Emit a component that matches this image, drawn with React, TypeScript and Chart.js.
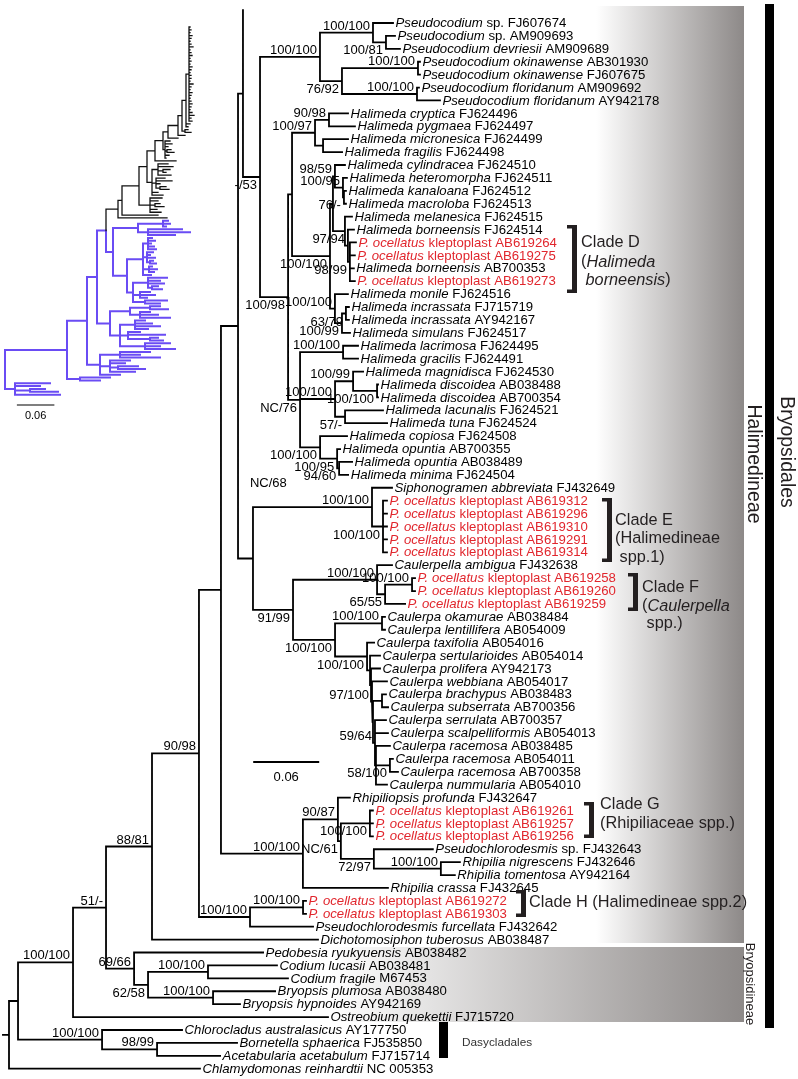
import { useEffect, useRef } from "react";
import { Chart, registerables } from "chart.js";

Chart.register(...registerables);

const FONT = '"Liberation Sans", Arial, Helvetica, sans-serif';

// ---------------- leaves (top to bottom) ----------------
const leafTaxa: string[] = [
  "Pseudocodium", "Pseudocodium", "Pseudocodium devriesii", "Pseudocodium okinawense", "Pseudocodium okinawense",
  "Pseudocodium floridanum", "Pseudocodium floridanum", "Halimeda cryptica", "Halimeda pygmaea", "Halimeda micronesica",
  "Halimeda fragilis", "Halimeda cylindracea", "Halimeda heteromorpha", "Halimeda kanaloana", "Halimeda macroloba",
  "Halimeda melanesica", "Halimeda borneensis", "P. ocellatus", "P. ocellatus", "Halimeda borneensis",
  "P. ocellatus", "Halimeda monile", "Halimeda incrassata", "Halimeda incrassata", "Halimeda simulans",
  "Halimeda lacrimosa", "Halimeda gracilis", "Halimeda magnidisca", "Halimeda discoidea", "Halimeda discoidea",
  "Halimeda lacunalis", "Halimeda tuna", "Halimeda copiosa", "Halimeda opuntia", "Halimeda opuntia",
  "Halimeda minima", "Siphonogramen abbreviata", "P. ocellatus", "P. ocellatus", "P. ocellatus",
  "P. ocellatus", "P. ocellatus", "Caulerpella ambigua", "P. ocellatus", "P. ocellatus",
  "P. ocellatus", "Caulerpa okamurae", "Caulerpa lentillifera", "Caulerpa taxifolia", "Caulerpa sertularioides",
  "Caulerpa prolifera", "Caulerpa webbiana", "Caulerpa brachypus", "Caulerpa subserrata", "Caulerpa serrulata",
  "Caulerpa scalpelliformis", "Caulerpa racemosa", "Caulerpa racemosa", "Caulerpa racemosa", "Caulerpa nummularia",
  "Rhipiliopsis profunda", "P. ocellatus", "P. ocellatus", "P. ocellatus", "Pseudochlorodesmis",
  "Rhipilia nigrescens", "Rhipilia tomentosa", "Rhipilia crassa", "P. ocellatus", "P. ocellatus",
  "Pseudochlorodesmis furcellata", "Dichotomosiphon tuberosus", "Pedobesia ryukyuensis", "Codium lucasii", "Codium fragile",
  "Bryopsis plumosa", "Bryopsis hypnoides", "Ostreobium quekettii", "Chlorocladus australasicus", "Bornetella sphaerica",
  "Acetabularia acetabulum", "Chlamydomonas reinhardtii",
];

const leafAccessions: string[] = [
  "sp. FJ607674", "sp. AM909693", "AM909689", "AB301930", "FJ607675",
  "AM909692", "AY942178", "FJ624496", "FJ624497", "FJ624499",
  "FJ624498", "FJ624510", "FJ624511", "FJ624512", "FJ624513",
  "FJ624515", "FJ624514", "kleptoplast AB619264", "kleptoplast AB619275", "AB700353",
  "kleptoplast AB619273", "FJ624516", "FJ715719", "AY942167", "FJ624517",
  "FJ624495", "FJ624491", "FJ624530", "AB038488", "AB700354",
  "FJ624521", "FJ624524", "FJ624508", "AB700355", "AB038489",
  "FJ624504", "FJ432649", "kleptoplast AB619312", "kleptoplast AB619296", "kleptoplast AB619310",
  "kleptoplast AB619291", "kleptoplast AB619314", "FJ432638", "kleptoplast AB619258", "kleptoplast AB619260",
  "kleptoplast AB619259", "AB038484", "AB054009", "AB054016", "AB054014",
  "AY942173", "AB054017", "AB038483", "AB700356", "AB700357",
  "AB054013", "AB038485", "AB054011", "AB700358", "AB054010",
  "FJ432647", "kleptoplast AB619261", "kleptoplast AB619257", "kleptoplast AB619256", "sp. FJ432643",
  "FJ432646", "AY942164", "FJ432645", "kleptoplast AB619272", "kleptoplast AB619303",
  "FJ432642", "AB038487", "AB038482", "AB038481", "M67453",
  "AB038480", "AY942169", "FJ715720", "AY177750", "FJ535850",
  "FJ715714", "NC 005353",
];

// ---------------- main tree (Newick; leaf = row index; branch lengths in subst./site;
// node labels = bootstrap support; "|b" printed under the branch, "|t" printed above the upper child) ----------------
const pseudocodiumClade =
  "((0:0.0182,(1:0.0082,2:0.0127)'100/81|b':0.0118)'100/100':0.0482," +
  "((3:0.0018,4:0.0018)'100/100':0.0691,(5:0.0018,6:0.0209)'100/100':0.0682)'76/92|b':0.0200)'100/100':0.0545";
const halimedaUpper =
  "(((7:0.0173,8:0.0236)'90/98':0.0127,(9:0.0227,10:0.0173):0.0073)'100/97':0.0209," +
  "(((11:0.0091,(12:0.0036,(13:0.0018,14:0.0018)'76/-|b':0.0009)'100/95':0.0073)'98/59':0.0018," +
  "(15:0.0064,(16:0.0055,(17:0.0055,18:0.0045,19:0.0036,20:0.0045)'98/99|b':0.0018)'97/94':0.0027):0.0109):0.0027," +
  "(21:0.0118,((22:0.0027,23:0.0027)'63/79|b':0.0036,24:0.0073)'100/99|b':0.0064)'100/100':0.0045)'100/100|b':0.0345):0.0036";
const halimedaLower =
  "((25:0.0136,26:0.0136)'100/100':0.0391," +
  "((27:0.0091,(28:0.0009,29:0.0009)'100/100|b':0.0218)'100/99':0.0164,(30:0.0345,31:0.0382)'57/-|b':0.0091)'100/100':0.0318," +
  "(32:0.0245,(33:0.0027,(34:0.0118,35:0.0082)'94/60|b':0.0018)'100/95|b':0.0155)'100/100|b':0.0182)'NC/76|b':0.0109";
const halimedaClade = `(${halimedaUpper},${halimedaLower})'100/98|b':0.0255`;
const upperGroup = `(-1:0,(${pseudocodiumClade},${halimedaClade})'-/53|b':0.0155):0.0045`;

const caulerpaCrown =
  "(48:0.0064,(49:0.0091,(50:0.0082,(51:0.0136,((52:0.0036,53:0.0055):0.0082," +
  "(54:0.0100,55:0.0118,(56:0.0127,(57:0.0027,58:0.0073)'58/100|b':0.0127,59:0.0100):0.0009)'59/64':0.0018):0.0009)'97/100':0.0009):0.0009):0.0027)'100/100|b':0.0291";
const caulerpaGroup =
  "((36:0.0182,(37:0.0036,38:0.0036,39:0.0036,40:0.0036,41:0.0036)'100/100|b':0.0100)'100/100':0.1082," +
  "((42:0.0136,((43:0.0027,44:0.0027)'100/100':0.0245,45:0.0182)'65/55|b':0.0073)'100/100':0.0764," +
  `((46:0.0027,47:0.0027)'100/100':0.0427,${caulerpaCrown})'100/100|b':0.0382)'91/99|b':0.0364)'NC/68|t':0.0136`;
const rhipiliaClade =
  "((60:0.0109,((61:0.0027,62:0.0027,63:0.0027)'100/100|b':0.0264,(64:0.0536,(65:0.0173,66:0.0127)'100/100':0.0609)'72/97|b':0.0300)'NC/61|b':0.0027)'90/87':0.0318,67:0.0773)'100/100':0.0745";
const cladeHGroup = "((68:0.0027,69:0.0027)'100/100':0.0482,70:0.0573)'100/100':0.0464";
const halimedineae = `((((${upperGroup},${caulerpaGroup}):0.0155,${rhipiliaClade}):0.0200,${cladeHGroup})'90/98':0.0427,71:0.1509)'88/81':0.0418`;
const bryopsidineae = "(72:0.1173,((73:0.0627,74:0.0727)'100/100':0.0545,(75:0.0564,76:0.0245)'100/100':0.0591)'62/58|b':0.0127)'69/66':0.0255";
const bryopsidales = `((${halimedineae},${bryopsidineae})'51/-':0.0300,77:0.2318)'100/100':0.0500`;
const dasycladales = "(78:0.0727,(79:0.0727,80:0.0573)'98/99':0.0500)'100/100':0.0764";
const mainNewick = `((${bryopsidales},${dasycladales}):0.0082,81:0.1736):0.0055;`;

// ---------------- overview tree (thumbnail); 'K' = subtree drawn black, the rest purple ----------------
const insetComb =
  "(_:0.0016,_:0.0032,_:0.0016,_:0.0048,_:0.0032,_:0.0016,_:0.0032,_:0.0064,_:0.0016,_:0.0032,_:0.0048,_:0.0016,_:0.0032,_:0.0016,_:0.0048,_:0.0032,_:0.0016," +
  "_:0.0032,_:0.0032,_:0.0016,_:0.0064,_:0.0032,_:0.0016,_:0.0048,_:0.0032,_:0.0016,_:0.0032,_:0.0048,_:0.0032,_:0.0016,_:0.0048,_:0.008,_:0.0032,_:0.0048):0.0048";
const insetBlack =
  `((((((((((${insetComb},_:0.0064,_:0.0032):0.0064,(_:0.0048,_:0.0096):0.0048):0.0064,_:0.0112):0.016,_:0.016):0.008,` +
  "(_:0.008,_:0.0112,_:0.0048,(_:0.0064,_:0.0112):0.0032,_:0.0064,_:0.0016):0.0032):0.0128,_:0.0336):0.0128," +
  "((_:0.016,_:0.024,(_:0.0112,_:0.0048):0.008,_:0.0208):0.0096,(_:0.0144,_:0.0256,_:0.0064,(_:0.0096,_:0.0144):0.0064):0.0064,_:0.0096,_:0.0176):0.008):0.0128," +
  "(_:0.0192,_:0.0128,(_:0.008,_:0.0144):0.008,_:0.0112,_:0.0176):0.0176):0.0272,_:0.0576):0.0064,_:0.0784)K:0.0192";
const insetPurpleA =
  "(((_:0.008,_:0.0112,_:0.0048):0.04,(_:0.0544,_:0.0672,_:0.0432):0.016):0.04," +
  "(((_:0.0064,_:0.0112,_:0.0048,_:0.0096,_:0.0128):0.008,(_:0.0096,_:0.0048,_:0.0128,(_:0.0048,_:0.0096):0.0048):0.0064,(_:0.0048,_:0.0128,_:0.008):0.0096,_:0.0128):0.0256," +
  "((_:0.0304,_:0.0192,_:0.0256,(_:0.0096,_:0.016):0.0064):0.024,(_:0.016,_:0.024,_:0.0112):0.0112,(_:0.0352,_:0.024):0.0192):0.0096):0.0224):0.0112";
const insetPurpleB =
  "(((_:0.016,_:0.0288):0.032,(_:0.016,_:0.0288,_:0.048):0.016):0.032," +
  "((_:0.016,_:0.0272,_:0.04,_:0.0208):0.024,(_:0.0192,_:0.0592,(_:0.0128,_:0.0208):0.0352):0.0128,(_:0.04,_:0.024,_:0.048):0.04):0.016):0.0208";
const insetPurpleC = "((_:0.048,_:0.032,_:0.064):0.032,(_:0.032,_:0.024,(_:0.032,_:0.0432):0.0128,_:0.04):0.016,_:0.032):0.0208";
const insetNewick =
  `(((((${insetBlack},${insetPurpleA}):0.0144,${insetPurpleB}):0.016,${insetPurpleC}):0.032,(_:0.048,_:0.032):0.0208):0.0992,` +
  "(_:0.056,_:0.04,(_:0.024,_:0.0448):0.024,_:0.072):0.016):0;";

const mainScaleBar = 0.06;
const insetScaleBar = 0.06;

// ---------------- layout (pixels) ----------------
const W = 798;
const H = 1079;
const MAIN_PX_PER_UNIT = 1100;
const ROOT_X = 9;
const ROW0_Y = 23;
const ROW_H = 12.91;

const INSET_W = 230;
const INSET_H = 440;
const INSET_PX_PER_UNIT = 625;
const INSET_ROOT_X = 5;
const INSET_ROW0_Y = 27;
const INSET_ROW_H = 2.85;
const INSET_BAR_Y = 405;

const RED = "#e1262d";
const INK = "#231f20";
const PURPLE = "#6a4cf4";

type TNode = { children: TNode[]; len: number; label: string; x: number; y: number; leaf: number | null; black: boolean };

function parseNewick(src: string): TNode {
  const s = src.replace(/\s+/g, "").replace(/;$/, "");
  let i = 0;
  const read = (): TNode => {
    const n: TNode = { children: [], len: 0, label: "", x: 0, y: 0, leaf: null, black: false };
    if (s[i] === "(") {
      i++;
      n.children.push(read());
      while (s[i] === ",") { i++; n.children.push(read()); }
      i++;
    }
    let lab = "";
    if (s[i] === "'") { i++; while (s[i] !== "'") lab += s[i++]; i++; }
    else while (i < s.length && ",():;".indexOf(s[i]) < 0) lab += s[i++];
    if (s[i] === ":") {
      i++;
      let num = "";
      while (i < s.length && ",()".indexOf(s[i]) < 0) num += s[i++];
      n.len = parseFloat(num);
    }
    if (n.children.length === 0) n.leaf = /^-?\d+$/.test(lab) ? parseInt(lab, 10) : NaN;
    else n.label = lab;
    return n;
  };
  return read();
}

function layoutTree(root: TNode) {
  let counter = 0;
  const walk = (n: TNode, x0: number, black: boolean) => {
    n.x = x0 + n.len;
    n.black = black || n.label === "K";
    if (n.children.length === 0) {
      n.y = Number.isNaN(n.leaf as number) ? counter : (n.leaf as number);
      counter++;
      return;
    }
    n.children.forEach((c) => walk(c, n.x, n.black));
    n.y = (n.children[0].y + n.children[n.children.length - 1].y) / 2;
  };
  walk(root, -root.len, false);
}

type Pt = { x: number; y: number };
// each branch = elbow from the parent's node point to the child row, then across to the child
function segments(root: TNode, pick: (n: TNode) => boolean): Pt[] {
  const out: Pt[] = [];
  const gap = { x: NaN, y: NaN };
  if (pick(root) && root.len > 0) out.push({ x: root.x - root.len, y: root.y }, { x: root.x, y: root.y }, gap);
  const walk = (n: TNode) => {
    for (const c of n.children) {
      if (pick(c)) out.push({ x: n.x, y: n.y }, { x: n.x, y: c.y }, { x: c.x, y: c.y }, gap);
      walk(c);
    }
  };
  walk(root);
  return out;
}

function collect(root: TNode): TNode[] {
  const all: TNode[] = [];
  const w = (n: TNode) => { all.push(n); n.children.forEach(w); };
  w(root);
  return all;
}

function drawRich(ctx: CanvasRenderingContext2D, parts: [string, boolean][], x: number, y: number, size: number, color: string) {
  ctx.fillStyle = color;
  ctx.textAlign = "left";
  ctx.textBaseline = "middle";
  let cx = x;
  for (const [t, it] of parts) {
    ctx.font = `${it ? "italic " : ""}${size}px ${FONT}`;
    ctx.fillText(t, cx, y);
    cx += ctx.measureText(t).width;
  }
}

function drawBracket(ctx: CanvasRenderingContext2D, xRight: number, y0: number, y1: number) {
  ctx.fillStyle = INK;
  ctx.fillRect(xRight - 5, y0, 5, y1 - y0);
  ctx.fillRect(xRight - 10, y0, 10, 3.5);
  ctx.fillRect(xRight - 10, y1 - 3.5, 10, 3.5);
}

const cladeNotes: { xRight: number; y0: number; y1: number; tx: number; lines: { y: number; parts: [string, boolean][] }[] }[] = [
  { xRight: 577, y0: 225, y1: 293, tx: 581, lines: [
    { y: 243, parts: [["Clade D", false]] },
    { y: 262, parts: [["(", false], ["Halimeda", true]] },
    { y: 280, parts: [[" ", false], ["borneensis", true], [")", false]] },
  ] },
  { xRight: 612, y0: 498, y1: 562, tx: 615, lines: [
    { y: 521, parts: [["Clade E", false]] },
    { y: 539, parts: [["(Halimedineae", false]] },
    { y: 558, parts: [[" spp.1)", false]] },
  ] },
  { xRight: 638, y0: 573, y1: 611, tx: 642, lines: [
    { y: 588, parts: [["Clade F", false]] },
    { y: 606, parts: [["(", false], ["Caulerpella", true]] },
    { y: 624, parts: [[" spp.)", false]] },
  ] },
  { xRight: 594, y0: 802, y1: 838, tx: 600, lines: [
    { y: 805, parts: [["Clade G", false]] },
    { y: 824, parts: [["(Rhipiliaceae spp.)", false]] },
  ] },
  { xRight: 526, y0: 890, y1: 917, tx: 529, lines: [
    { y: 903, parts: [["Clade H (Halimedineae spp.2)", false]] },
  ] },
];

const baseOptions = (xMin: number, xMax: number, yMin: number, yMax: number) => ({
  animation: false,
  responsive: false,
  maintainAspectRatio: false,
  devicePixelRatio: 1,
  events: [],
  layout: { padding: 0 },
  scales: {
    x: { type: "linear", min: xMin, max: xMax, display: false },
    y: { type: "linear", min: yMin, max: yMax, reverse: true, display: false },
  },
  plugins: { legend: { display: false }, tooltip: { enabled: false } },
});

function MainTree() {
  const ref = useRef<HTMLCanvasElement | null>(null);
  useEffect(() => {
    const canvas = ref.current;
    if (!canvas) return;
    const root = parseNewick(mainNewick);
    layoutTree(root);
    const nodes = collect(root);
    const data = segments(root, () => true);

    const xMin = -ROOT_X / MAIN_PX_PER_UNIT;
    const xMax = xMin + W / MAIN_PX_PER_UNIT;
    const yMin = -ROW0_Y / ROW_H;
    const yMax = yMin + H / ROW_H;

    const backdrop = {
      id: "backdrop",
      beforeDatasetsDraw(chart: Chart) {
        const ctx = chart.ctx;
        ctx.save();
        let g = ctx.createLinearGradient(596, 0, 744, 0);
        g.addColorStop(0, "#ffffff");
        g.addColorStop(1, "#8d8988");
        ctx.fillStyle = g;
        ctx.fillRect(560, 6, 184, 937);
        g = ctx.createLinearGradient(330, 0, 744, 0);
        g.addColorStop(0, "#ffffff");
        g.addColorStop(1, "#8d8988");
        ctx.fillStyle = g;
        ctx.fillRect(330, 947, 414, 75);
        ctx.restore();
      },
    };

    const labels = {
      id: "labels",
      afterDatasetsDraw(chart: Chart) {
        const ctx = chart.ctx;
        const xs = chart.scales.x;
        const ys = chart.scales.y;
        ctx.save();
        for (const n of nodes) {
          if (n.children.length === 0) {
            const idx = n.leaf as number;
            if (idx < 0 || idx >= leafTaxa.length) continue;
            const red = leafTaxa[idx].startsWith("P. ocellatus");
            drawRich(ctx, [[leafTaxa[idx], true], [" " + leafAccessions[idx], false]],
              xs.getPixelForValue(n.x) + 2.5, ys.getPixelForValue(n.y) + 0.5, 13.2, red ? RED : "#000");
          } else if (n.label) {
            const [txt, pos] = n.label.split("|");
            ctx.font = `13px ${FONT}`;
            ctx.fillStyle = "#000";
            const px = xs.getPixelForValue(n.x);
            const py = ys.getPixelForValue(n.y);
            if (pos === "t") {
              ctx.textAlign = "left";
              ctx.textBaseline = "middle";
              ctx.fillText(txt, px - 3, ys.getPixelForValue(n.children[0].y) - 24);
            } else if (pos === "b") {
              ctx.textAlign = "right";
              ctx.textBaseline = "top";
              ctx.fillText(txt, px - 3, py + 2);
            } else {
              ctx.textAlign = "right";
              ctx.textBaseline = "alphabetic";
              ctx.fillText(txt, px - 3, py - 3);
            }
          }
        }
        const sx0 = xs.getPixelForValue(0.222);
        const sx1 = xs.getPixelForValue(0.222 + mainScaleBar);
        ctx.strokeStyle = "#000";
        ctx.lineWidth = 1.8;
        ctx.beginPath();
        ctx.moveTo(sx0, 762);
        ctx.lineTo(sx1, 762);
        ctx.stroke();
        ctx.font = `13px ${FONT}`;
        ctx.fillStyle = "#000";
        ctx.textAlign = "center";
        ctx.textBaseline = "middle";
        ctx.fillText(String(mainScaleBar), (sx0 + sx1) / 2, 777);

        for (const c of cladeNotes) {
          drawBracket(ctx, c.xRight, c.y0, c.y1);
          for (const l of c.lines) drawRich(ctx, l.parts, c.tx, l.y, 16.3, INK);
        }
        ctx.fillStyle = "#000";
        ctx.fillRect(765, 4, 9, 1024);
        ctx.fillRect(439, 1022, 9, 36);
        drawRich(ctx, [["Dasycladales", false]], 462, 1043, 11.8, "#333");

        const vText = (t: string, cx: number, cy: number, size: number) => {
          ctx.save();
          ctx.translate(cx, cy);
          ctx.rotate(Math.PI / 2);
          ctx.font = `${size}px ${FONT}`;
          ctx.fillStyle = INK;
          ctx.textAlign = "center";
          ctx.textBaseline = "middle";
          ctx.fillText(t, 0, 0);
          ctx.restore();
        };
        vText("Halimedineae", 753, 464, 19.5);
        vText("Bryopsidales", 786, 452, 19.5);
        vText("Bryopsidineae", 750, 984, 13);
        ctx.restore();
      },
    };

    const chart = new Chart(canvas, {
      type: "line",
      data: {
        datasets: [{
          data, borderColor: "#000", borderWidth: 1.8, pointRadius: 0, tension: 0,
          spanGaps: false, borderCapStyle: "square", borderJoinStyle: "miter", fill: false,
        }],
      },
      options: baseOptions(xMin, xMax, yMin, yMax),
      plugins: [backdrop, labels],
    } as any);
    return () => chart.destroy();
  }, []);
  return <canvas ref={ref} width={W} height={H} style={{ position: "absolute", left: 0, top: 0, width: W, height: H }} />;
}

function InsetTree() {
  const ref = useRef<HTMLCanvasElement | null>(null);
  useEffect(() => {
    const canvas = ref.current;
    if (!canvas) return;
    const root = parseNewick(insetNewick);
    layoutTree(root);
    const black = segments(root, (n) => n.black);
    const purple = segments(root, (n) => !n.black);
    const xMin = -INSET_ROOT_X / INSET_PX_PER_UNIT;
    const xMax = xMin + INSET_W / INSET_PX_PER_UNIT;
    const yMin = -INSET_ROW0_Y / INSET_ROW_H;
    const yMax = yMin + INSET_H / INSET_ROW_H;
    const bar = {
      id: "insetBar",
      afterDatasetsDraw(chart: Chart) {
        const ctx = chart.ctx;
        const xs = chart.scales.x;
        const x0 = xs.getPixelForValue(0.019);
        const x1 = xs.getPixelForValue(0.019 + insetScaleBar);
        ctx.save();
        ctx.strokeStyle = "#000";
        ctx.lineWidth = 1.2;
        ctx.beginPath();
        ctx.moveTo(x0, INSET_BAR_Y);
        ctx.lineTo(x1, INSET_BAR_Y);
        ctx.stroke();
        ctx.font = `11px ${FONT}`;
        ctx.fillStyle = "#000";
        ctx.textAlign = "center";
        ctx.textBaseline = "middle";
        ctx.fillText(String(insetScaleBar), (x0 + x1) / 2, INSET_BAR_Y + 11);
        ctx.restore();
      },
    };
    const chart = new Chart(canvas, {
      type: "line",
      data: {
        datasets: [
          { data: black, borderColor: "#111", borderWidth: 1.3, pointRadius: 0, tension: 0, spanGaps: false, borderCapStyle: "square" },
          { data: purple, borderColor: PURPLE, borderWidth: 2, pointRadius: 0, tension: 0, spanGaps: false, borderCapStyle: "square" },
        ],
      },
      options: baseOptions(xMin, xMax, yMin, yMax),
      plugins: [bar],
    } as any);
    return () => chart.destroy();
  }, []);
  return <canvas ref={ref} width={INSET_W} height={INSET_H} style={{ position: "absolute", left: 0, top: 0, width: INSET_W, height: INSET_H }} />;
}

export default function App() {
  return (
    <div style={{ position: "absolute", left: 0, top: 0, width: W, height: H, background: "#fff", overflow: "hidden" }}>
      <MainTree />
      <InsetTree />
    </div>
  );
}
